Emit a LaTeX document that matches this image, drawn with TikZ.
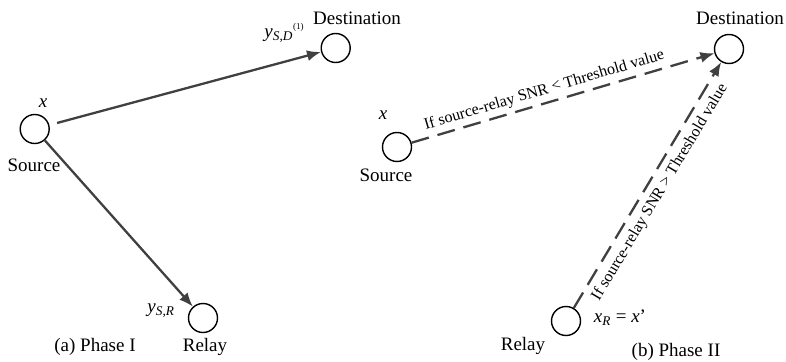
\documentclass[tikz,border=0pt]{standalone}
\usepackage{fontspec}
\setmainfont{Liberation Serif}
\usetikzlibrary{arrows.meta}
\definecolor{linec}{HTML}{404040}
\begin{document}
\begin{tikzpicture}[x=1pt,y=-1pt,
  nd/.style={circle,draw,line width=1.4pt,minimum size=29pt,inner sep=0pt},
  lbl/.style={font=\fontsize{19}{22}\selectfont,inner sep=0pt},
  lnk/.style={draw=linec,line width=2.3pt,-{Latex[length=14pt,width=11pt]}},
  dsh/.style={lnk,dash pattern=on 18pt off 9pt},
  cond/.style={font=\fontsize{16}{19}\selectfont,sloped,text=black}]
\useasboundingbox (0,0) rectangle (786,361);
% Phase I
\node[nd] (s1) at (34.7,129) {};
\node[nd] (d1) at (335.7,48) {};
\node[nd] (r1) at (203,318) {};
\node[lbl] (xs1) at (43,103) {\textit{x}};
\node[lbl] (ts1) at (34,165) {Source};
\node[lbl] (td1) at (357,18) {Destination};
\node[lbl] (tr1) at (205,347) {Relay};
\node[lbl] (cap1) at (95,347) {(a) Phase I};
\node[lbl] (ysd) at (284,33) {\textit{y}\textsubscript{\textit{S,D}}\raisebox{0.9ex}{\fontsize{9}{10}\selectfont(1)}};
\node[lbl] (ysr) at (161,311) {\textit{y}\textsubscript{\textit{S,R}}};
\draw[lnk,shorten <=8pt] (s1) -- (d1);
\draw[lnk] (s1) -- (r1);
% Phase II
\node[nd] (s2) at (397,147) {};
\node[nd] (d2) at (729,49) {};
\node[nd] (r2) at (566,321) {};
\node[lbl] (xs2) at (383,115) {\textit{x}};
\node[lbl] (ts2) at (386,175) {Source};
\node[lbl] (td2) at (740,18) {Destination};
\node[lbl] (tr2) at (523,346) {Relay};
\node[lbl] (cap2) at (676,352) {(b) Phase II};
\node[lbl] (xr) at (620,318) {\textit{x}\textsubscript{\textit{R}} = \textit{x}'};
\draw[dsh] (s2) -- node[cond,above,pos=0.45,inner sep=4pt] (c1) {If source-relay SNR < Threshold value} (d2);
\draw[dsh] (r2) -- node[cond,below,pos=0.5,inner sep=6pt] (c2) {If source-relay SNR > Threshold value} (d2);
\end{tikzpicture}
\end{document}
